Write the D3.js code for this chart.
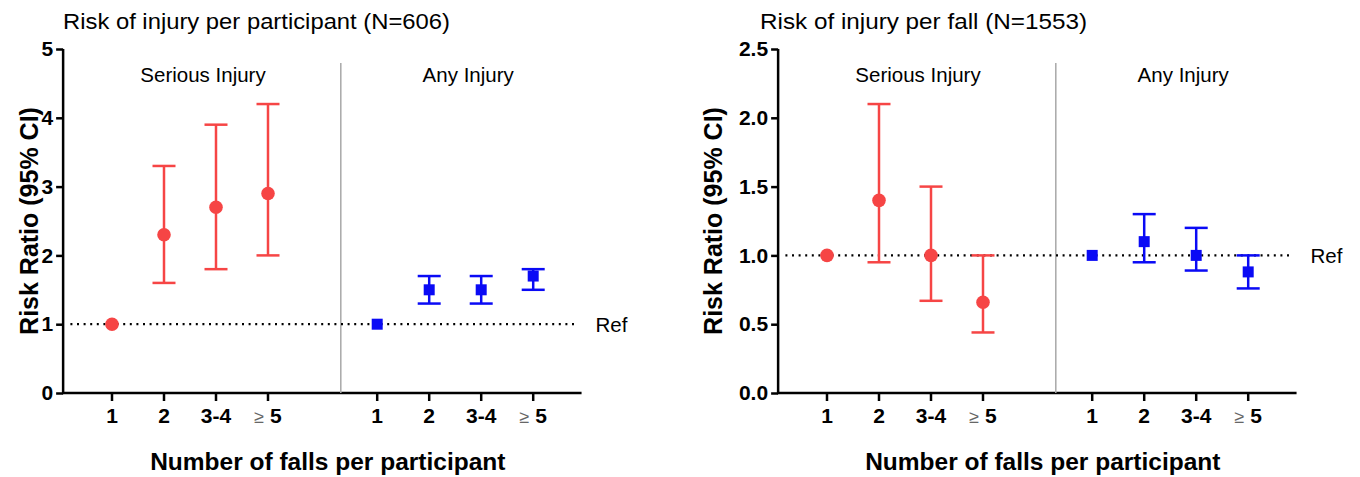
<!DOCTYPE html>
<html>
<head>
<meta charset="utf-8">
<script src="https://d3js.org/d3.v7.min.js"></script>
<style>
body { margin: 0; background: #fff; font-family: 'Liberation Sans', Arial, sans-serif; }
svg { display: block; }
</style>
</head>
<body>
<div id="chart"></div>
<script>
// categories
var groups = ["Serious Injury", "Any Injury"];
var fallCats = ["1", "2", "3-4", "5"];

// per participant (N=606)
var partSeriousRR = [1, 2.3, 2.7, 2.9];
var partSeriousLo = [null, 1.6, 1.8, 2.0];
var partSeriousHi = [null, 3.3, 3.9, 4.2];
var partAnyRR = [1, 1.5, 1.5, 1.7];
var partAnyLo = [null, 1.3, 1.3, 1.5];
var partAnyHi = [null, 1.7, 1.7, 1.8];

// per fall (N=1553)
var fallSeriousRR = [1, 1.4, 1.0, 0.66];
var fallSeriousLo = [null, 0.95, 0.67, 0.44];
var fallSeriousHi = [null, 2.1, 1.5, 1.0];
var fallAnyRR = [1, 1.1, 1.0, 0.88];
var fallAnyLo = [null, 0.95, 0.89, 0.76];
var fallAnyHi = [null, 1.3, 1.2, 1.0];

var leftTicks = [0, 1, 2, 3, 4, 5];
var rightTicks = [0, 0.5, 1.0, 1.5, 2.0, 2.5];

var red = "#f64545", blue = "#0a0af5";

var svg = d3.select("#chart").append("svg").attr("width", 1360).attr("height", 477);

// slot positions: group 0 at 0..3, group 1 at 5.1..8.1
function slot(g, i) { return g * 5.1 + i; }

function makeRows(rr, lo, hi, g) {
  return rr.map(function(v, i) { return {g: g, i: i, rr: v, lo: lo[i], hi: hi[i]}; });
}

function drawPanel(opt) {
  var g = svg.append("g");
  var x = d3.scaleLinear().domain([0, 3]).range([opt.x0, opt.x0 + 156]);
  var y = d3.scaleLinear().domain([0, opt.ymax]).range([393, 49]);
  var axisLeft = x(-0.94), axisRight = x(9.03);

  // title
  g.append("text").attr("x", opt.titleX).attr("y", 29)
    .attr("font-size", 22.5).attr("textLength", opt.titleLen).attr("lengthAdjust", "spacingAndGlyphs")
    .text(opt.title);

  // y axis
  var ya = g.append("g").attr("transform", "translate(" + axisLeft + ",0)")
    .call(d3.axisLeft(y).tickValues(opt.ticks).tickSize(7).tickPadding(3)
      .tickFormat(opt.fmt));
  ya.select(".domain").attr("stroke-width", 2.5).attr("d", "M0," + y(opt.ymax) + "V" + y(0));
  ya.selectAll(".tick line").attr("stroke-width", 2.5);
  ya.selectAll(".tick text").attr("font-size", 21).attr("font-weight", "bold")
    .attr("font-family", "'Liberation Sans', Arial, sans-serif").attr("fill", "#000");

  // x axis
  var xa = g.append("g").attr("transform", "translate(0,393)");
  xa.append("line").attr("x1", axisLeft - 1).attr("x2", axisRight).attr("stroke", "#000").attr("stroke-width", 2.5);
  var cats = [];
  groups.forEach(function(gr, gi) { fallCats.forEach(function(c, ci) { cats.push({g: gi, i: ci, c: c}); }); });
  var tk = xa.selectAll(".xt").data(cats).enter().append("g").attr("class", "xt")
    .attr("transform", function(d) { return "translate(" + x(slot(d.g, d.i)) + ",0)"; });
  tk.append("line").attr("y2", 8).attr("stroke", "#000").attr("stroke-width", 2.5);
  var tt = tk.append("text").attr("y", 30).attr("text-anchor", "middle")
    .attr("font-size", 21).attr("font-weight", "bold");
  tt.each(function(d) {
    var t = d3.select(this);
    if (d.i === 3) {
      t.append("tspan").attr("font-weight", "normal").attr("font-size", 18).attr("fill", "#666").text("\u2265");
      t.append("tspan").text(" " + d.c);
    } else {
      t.text(d.c);
    }
  });

  // axis titles
  g.append("text").attr("transform", "translate(" + (axisLeft - opt.yTitleOff) + "," + y(opt.ymax * 0.5) + ") rotate(-90)")
    .attr("text-anchor", "middle").attr("font-size", 25).attr("font-weight", "bold")
    .text("Risk Ratio (95% CI)");
  g.append("text").attr("x", x(4.15)).attr("y", 470).attr("text-anchor", "middle")
    .attr("font-size", 24.5).attr("font-weight", "bold")
    .text("Number of falls per participant");

  // divider
  g.append("line").attr("x1", x(4.4)).attr("x2", x(4.4)).attr("y1", 63).attr("y2", 393)
    .attr("stroke", "#a8a8a8").attr("stroke-width", 1.5);

  // group labels
  g.selectAll(".glab").data(groups).enter().append("text")
    .attr("x", function(d, i) { return x(slot(i, 1.75)); }).attr("y", 82)
    .attr("text-anchor", "middle").attr("font-size", 20.5).text(function(d) { return d; });

  // ref line
  g.append("line").attr("x1", x(-0.8)).attr("x2", x(8.95)).attr("y1", y(1)).attr("y2", y(1))
    .attr("stroke", "#000").attr("stroke-width", 2.2).attr("stroke-dasharray", "2,4.6");
  g.append("text").attr("x", axisRight + 14).attr("y", y(1) + 8).attr("font-size", 20.5).text("Ref");

  // error bars + markers
  [opt.serious, opt.any].forEach(function(rows, gi) {
    var col = gi === 0 ? red : blue;
    var eb = rows.filter(function(d) { return d.lo !== null; });
    var gg = g.append("g");
    gg.selectAll(".v").data(eb).enter().append("line")
      .attr("x1", function(d) { return x(slot(d.g, d.i)); }).attr("x2", function(d) { return x(slot(d.g, d.i)); })
      .attr("y1", function(d) { return y(d.lo); }).attr("y2", function(d) { return y(d.hi); })
      .attr("stroke", col).attr("stroke-width", 2.5);
    ["lo", "hi"].forEach(function(k) {
      gg.selectAll(".c" + k).data(eb).enter().append("line")
        .attr("x1", function(d) { return x(slot(d.g, d.i)) - 11.5; }).attr("x2", function(d) { return x(slot(d.g, d.i)) + 11.5; })
        .attr("y1", function(d) { return y(d[k]); }).attr("y2", function(d) { return y(d[k]); })
        .attr("stroke", col).attr("stroke-width", 2.5);
    });
    if (gi === 0) {
      gg.selectAll(".m").data(rows).enter().append("circle")
        .attr("cx", function(d) { return x(slot(d.g, d.i)); }).attr("cy", function(d) { return y(d.rr); })
        .attr("r", 6.8).attr("fill", col);
    } else {
      gg.selectAll(".m").data(rows).enter().append("rect")
        .attr("x", function(d) { return x(slot(d.g, d.i)) - 5.5; }).attr("y", function(d) { return y(d.rr) - 5.5; })
        .attr("width", 11).attr("height", 11).attr("fill", col);
    }
  });
}

drawPanel({
  x0: 112, ymax: 5, ticks: leftTicks, fmt: d3.format("d"),
  title: "Risk of injury per participant (N=606)", titleLen: 387, titleX: 63, yTitleOff: 25,
  serious: makeRows(partSeriousRR, partSeriousLo, partSeriousHi, 0),
  any: makeRows(partAnyRR, partAnyLo, partAnyHi, 1)
});
drawPanel({
  x0: 827, ymax: 2.5, ticks: rightTicks, fmt: d3.format(".1f"),
  title: "Risk of injury per fall (N=1553)", titleLen: 327, titleX: 760, yTitleOff: 56,
  serious: makeRows(fallSeriousRR, fallSeriousLo, fallSeriousHi, 0),
  any: makeRows(fallAnyRR, fallAnyLo, fallAnyHi, 1)
});
</script>
</body>
</html>
